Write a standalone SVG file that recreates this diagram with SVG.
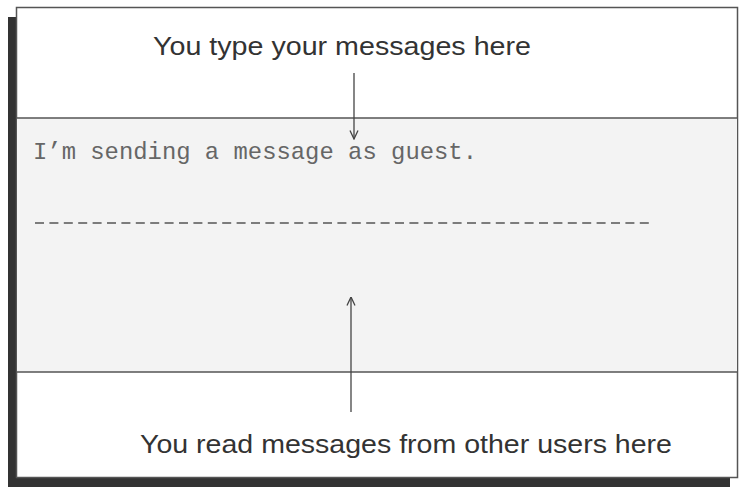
<svg xmlns="http://www.w3.org/2000/svg" width="741" height="487" viewBox="0 0 741 487">
<style>
.lbl{font-family:"Liberation Sans",Arial,sans-serif;font-size:26px;fill:#333}
.mono{font-family:"Liberation Mono","Courier New",monospace;font-size:24px;fill:#666}
.conn{stroke:#444;stroke-width:1.3;fill:none}
</style>
<defs>
<marker id="ah" viewBox="0 0 10 10" refX="9.5" refY="5" markerWidth="10" markerHeight="10" markerUnits="userSpaceOnUse" orient="auto">
<path d="M1,1 L9.5,5 L1,9" fill="none" stroke="#444" stroke-width="1.3"/>
</marker>
</defs>
<rect x="0" y="0" width="741" height="487" fill="#fff"/>
<g id="shadow">
<rect x="8" y="17" width="9" height="470" fill="#333"/>
<rect x="8" y="477" width="722" height="10" fill="#333"/>
</g>
<g id="window">
<rect x="16.5" y="7.5" width="721" height="470" fill="#fff" stroke="#555" stroke-width="1.5"/>
<rect x="17" y="118" width="720" height="254" fill="#f3f3f3"/>
<line x1="16.5" y1="118" x2="737.5" y2="118" stroke="#555" stroke-width="1.5"/>
<line x1="16.5" y1="372" x2="737.5" y2="372" stroke="#555" stroke-width="1.5"/>
</g>
<g id="input-label">
<text class="lbl" x="153" y="55" textLength="378" lengthAdjust="spacingAndGlyphs">You type your messages here</text>
</g>
<g id="message-area">
<text class="mono" x="33" y="159" textLength="444" lengthAdjust="spacingAndGlyphs">I’m sending a message as guest.</text>
<line x1="35" y1="223" x2="652" y2="223" stroke="#555" stroke-width="1.4" stroke-dasharray="9 5.4"/>
</g>
<g id="output-label">
<text class="lbl" x="140" y="453" textLength="532" lengthAdjust="spacingAndGlyphs">You read messages from other users here</text>
</g>
<g id="connectors">
<line class="conn" x1="354" y1="73" x2="354" y2="139" marker-end="url(#ah)"/>
<line class="conn" x1="351" y1="412" x2="351" y2="297" marker-end="url(#ah)"/>
</g>
</svg>
